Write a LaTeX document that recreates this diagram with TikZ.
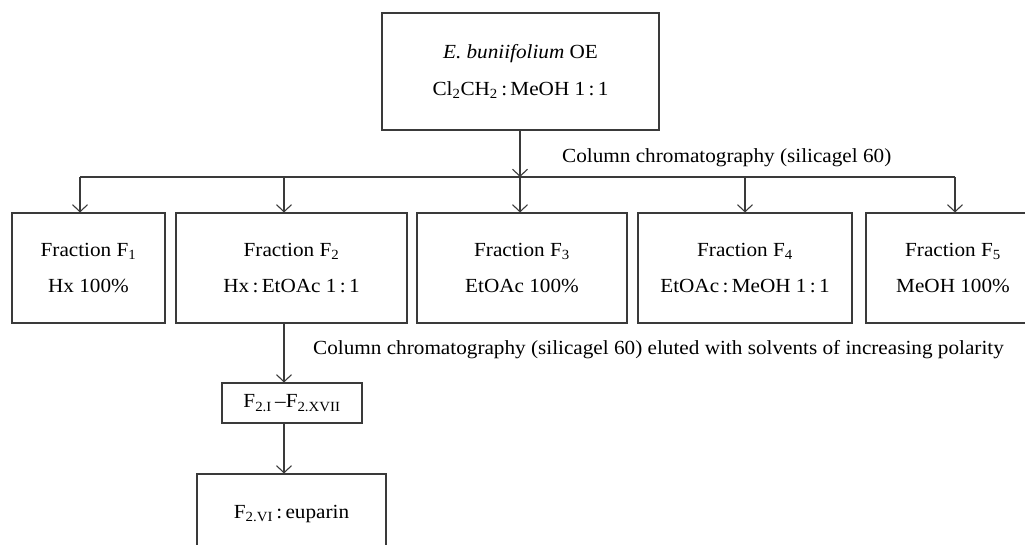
\documentclass[tikz,border=0pt]{standalone}
\usepackage{fontspec}
\setmainfont[FakeStretch=1.06]{Liberation Serif}
\usetikzlibrary{arrows.meta}
\definecolor{linec}{HTML}{3A3A3A}
\tikzset{
  box/.style={draw=linec, line width=1.1pt, inner sep=0pt, align=center,
    font=\fontsize{20}{36}\selectfont, text=black},
  lbl/.style={inner sep=0pt, font=\fontsize{20}{24}\selectfont, text=black},
  conn/.style={draw=linec, line width=1.1pt},
  arr/.style={conn, -{Straight Barb[length=7pt,width=15pt,line width=1.1pt]}}
}
\newcommand{\sub}[1]{\textsubscript{#1}}
\begin{document}
\begin{tikzpicture}[x=1pt,y=-1pt]
\useasboundingbox[fill=white] (0,0) rectangle (1025,544);
% top box
\node[box, minimum width=277, minimum height=117] (top) at (520.5,71.5)
  {\textit{E. buniifolium} OE\\[1pt]Cl\sub{2}CH\sub{2}\,:\,MeOH 1\,:\,1};
% fraction boxes
\node[box, minimum width=153, minimum height=110] (f1) at (88.5,268)
  {Fraction F\sub{1}\\Hx 100\%};
\node[box, minimum width=231, minimum height=110] (f2) at (291.5,268)
  {Fraction F\sub{2}\\Hx\,:\,EtOAc 1\,:\,1};
\node[box, minimum width=210, minimum height=110] (f3) at (522,268)
  {Fraction F\sub{3}\\EtOAc 100\%};
\node[box, minimum width=214, minimum height=110] (f4) at (745,268)
  {Fraction F\sub{4}\\EtOAc\,:\,MeOH 1\,:\,1};
\node[box, minimum width=174, minimum height=110] (f5) at (953,268)
  {Fraction F\sub{5}\\MeOH 100\%};
% sub fractions
\node[box, minimum width=140, minimum height=40] (f2i) at (292,403)
  {F\sub{2.I}\,–F\sub{2.XVII}};
\node[box, minimum width=189, minimum height=80] (eup) at (291.5,514)
  {F\sub{2.VI}\,:\,euparin};
% labels
\node[lbl, anchor=west] (l1) at (562,158) {Column chromatography (silicagel 60)};
\node[lbl, anchor=west] (l2) at (313,350) {Column chromatography (silicagel 60) eluted with solvents of increasing polarity};
% coordinates
\coordinate (split) at (520,177);
\coordinate (ax1) at (80,0);
\coordinate (ax2) at (284,0);
\coordinate (ax3) at (520,0);
\coordinate (ax4) at (745,0);
\coordinate (ax5) at (955,0);
% connectors
\draw[arr] (top.south -| split) -- (split);
\draw[conn] (ax1 |- split) -- (ax5 |- split);
\draw[arr] (ax1 |- split) -- (f1.north -| ax1);
\draw[arr] (ax2 |- split) -- (f2.north -| ax2);
\draw[arr] (ax3 |- split) -- (f3.north -| ax3);
\draw[arr] (ax4 |- split) -- (f4.north -| ax4);
\draw[arr] (ax5 |- split) -- (f5.north -| ax5);
\draw[arr] (f2.south -| ax2) -- (f2i.north -| ax2);
\draw[arr] (f2i.south -| ax2) -- (eup.north -| ax2);
\end{tikzpicture}
\end{document}
